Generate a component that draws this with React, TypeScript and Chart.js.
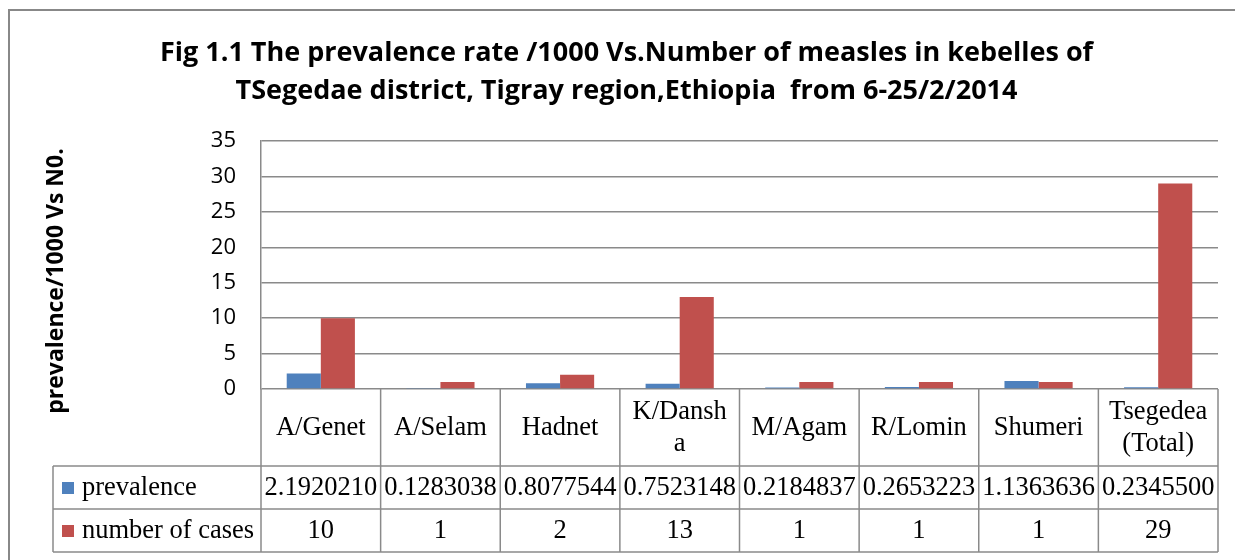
import React, { useEffect, useRef } from "react";
import { Chart, registerables } from "chart.js";

Chart.register(...registerables);

const titleLines = [
  "Fig 1.1 The prevalence rate /1000 Vs.Number of measles in kebelles of",
  "TSegedae district, Tigray region,Ethiopia  from 6-25/2/2014",
];
const yAxisTitle = "prevalence/1000 Vs N0.";
const categories: string[][] = [
  ["A/Genet"],
  ["A/Selam"],
  ["Hadnet"],
  ["K/Dansh", "a"],
  ["M/Agam"],
  ["R/Lomin"],
  ["Shumeri"],
  ["Tsegedea", "(Total)"],
];
const prevalence = [2.192021, 0.1283038, 0.8077544, 0.7523148, 0.2184837, 0.2653223, 1.1363636, 0.23455];
const prevalenceText = ["2.1920210", "0.1283038", "0.8077544", "0.7523148", "0.2184837", "0.2653223", "1.1363636", "0.2345500"];
const cases = [10, 1, 2, 13, 1, 1, 1, 29];
const casesText = ["10", "1", "2", "13", "1", "1", "1", "29"];
const seriesNames = ["prevalence", "number of cases"];
const yMin = 0;
const yMax = 35;
const yStep = 5;

const BLUE = "#4F81BD";
const RED = "#C0504D";
const LINE = "#8a8a8a";
const SERIF = "'Liberation Serif', 'Times New Roman', serif";
const SANS = "'Open Sans', sans-serif";

const tablePlugin = {
  id: "dataTable",
  afterDraw(chart: any) {
    const { ctx, chartArea } = chart;
    const xs = chart.scales.x;
    const n = chart.data.labels.length;
    const w = (chartArea.right - chartArea.left) / n;
    const top = chartArea.bottom;
    const r1 = top + 77;
    const r2 = r1 + 43;
    const r3 = r2 + 43;
    const leftCol = 43;
    const right = chartArea.right;
    ctx.save();
    ctx.strokeStyle = LINE;
    ctx.lineWidth = 1.5;
    const line = (x1: number, y1: number, x2: number, y2: number) => {
      ctx.beginPath();
      ctx.moveTo(x1, y1);
      ctx.lineTo(x2, y2);
      ctx.stroke();
    };
    line(leftCol, r1, right, r1);
    line(leftCol, r2, right, r2);
    line(leftCol, r3, right, r3);
    line(leftCol, r1, leftCol, r3);
    for (let i = 0; i <= n; i++) {
      const xb = chartArea.left + i * w;
      line(xb, top, xb, r3);
    }
    ctx.fillStyle = "#000";
    ctx.font = `26.5px ${SERIF}`;
    ctx.textAlign = "center";
    ctx.textBaseline = "middle";
    const hc = top + 39;
    chart.data.labels.forEach((lab: string[], i: number) => {
      const cx = xs.getPixelForValue(i);
      const lh = 32;
      const y0 = hc - ((lab.length - 1) * lh) / 2;
      lab.forEach((t, j) => ctx.fillText(t, cx, y0 + j * lh));
      ctx.fillText(prevalenceText[i], cx, r1 + 22);
      ctx.fillText(casesText[i], cx, r2 + 22);
    });
    // legend keys
    const rows = [r1 + 22, r2 + 22];
    chart.data.datasets.forEach((ds: any, k: number) => {
      ctx.fillStyle = ds.backgroundColor;
      ctx.fillRect(52, rows[k] - 6, 12, 12);
      ctx.fillStyle = "#000";
      ctx.textAlign = "left";
      ctx.fillText(ds.label, 72, rows[k]);
    });
    // y axis title
    ctx.save();
    ctx.translate(46.5, 270);
    ctx.rotate(-Math.PI / 2);
    ctx.textAlign = "center";
    ctx.font = `bold 23px ${SANS}`;
    ctx.fillText(yAxisTitle, 0, 0);
    ctx.restore();
    ctx.restore();
  },
};

export default function App() {
  const ref = useRef<HTMLCanvasElement>(null);
  useEffect(() => {
    if (!ref.current) return;
    const chart = new Chart(ref.current, {
      type: "bar",
      data: {
        labels: categories,
        datasets: [
          { label: seriesNames[0], data: prevalence, backgroundColor: BLUE, borderWidth: 0 },
          { label: seriesNames[1], data: cases, backgroundColor: RED, borderWidth: 0 },
        ],
      },
      options: {
        animation: false,
        responsive: false,
        devicePixelRatio: 1,
        categoryPercentage: 0.57,
        barPercentage: 1,
        layout: { padding: { left: 25, right: 25, top: 0, bottom: 171 } },
        plugins: {
          legend: { display: false },
          tooltip: { enabled: false },
          title: {
            display: true,
            text: titleLines,
            color: "#000",
            font: { family: SANS, size: 27, weight: "bold", lineHeight: 38 / 27 },
            padding: { top: 23, bottom: 31 },
          },
        },
        scales: {
          x: { display: false },
          y: {
            min: yMin,
            max: yMax,
            afterFit: (s: any) => {
              s.width = 226;
            },
            ticks: { stepSize: yStep, padding: 25, color: "#000", font: { family: SANS, size: 22 } },
            grid: { color: LINE, lineWidth: 1.5, drawTicks: false },
            border: { color: LINE, width: 1.5 },
          },
        },
      },
      plugins: [tablePlugin],
    });
    return () => chart.destroy();
  }, []);
  return (
    <div
      style={{
        position: "relative",
        width: 1240,
        height: 560,
        borderLeft: "2px solid #888",
        borderTop: "2px solid #888",
        marginTop: 1,
        boxSizing: "border-box",
      }}
    >
      <canvas ref={ref} width={1233} height={549} style={{ display: "block" }} />
    </div>
  );
}
